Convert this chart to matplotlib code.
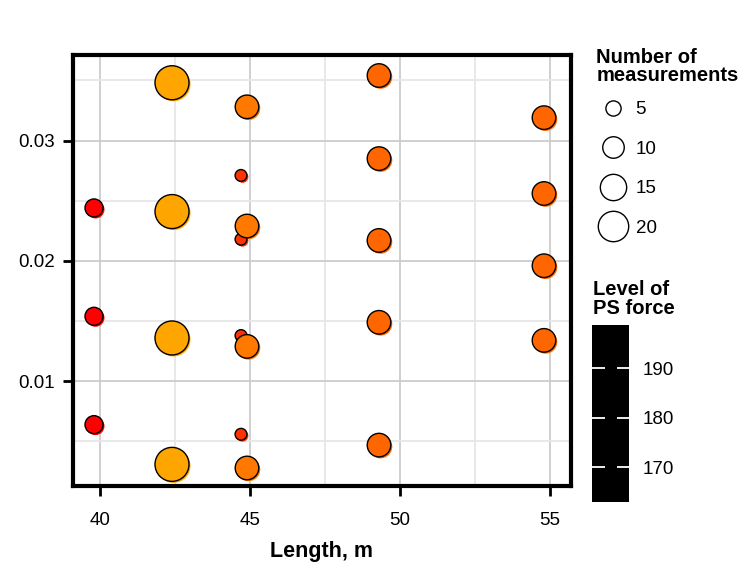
import matplotlib
matplotlib.use("Agg")
import matplotlib.pyplot as plt
import numpy as np
from matplotlib.colors import LinearSegmentedColormap, ListedColormap, Normalize
from matplotlib.transforms import offset_copy
from matplotlib.lines import Line2D
from matplotlib.cm import ScalarMappable

plt.rcParams['font.family'] = ['Liberation Sans', 'DejaVu Sans']

# data
length = [39.8, 39.8, 39.8,
          42.4, 42.4, 42.4, 42.4,
          44.7, 44.7, 44.7, 44.7,
          44.9, 44.9, 44.9, 44.9,
          49.3, 49.3, 49.3, 49.3, 49.3,
          54.8, 54.8, 54.8, 54.8]
ratio = [0.0244, 0.0154, 0.0064,
         0.0348, 0.0241, 0.0136, 0.0031,
         0.0271, 0.0218, 0.0138, 0.0056,
         0.0328, 0.0229, 0.0129, 0.0028,
         0.0354, 0.0285, 0.0217, 0.0149, 0.0047,
         0.0319, 0.0256, 0.0196, 0.0134]
n_meas = [7, 7, 7,
          25, 25, 25, 25,
          3, 3, 3, 3,
          12, 12, 12, 12,
          12, 12, 12, 12, 12,
          12, 12, 12, 12]
ps_force = [163, 163, 163,
            199, 199, 199, 199,
            174, 174, 174, 174,
            189, 189, 189, 189,
            185, 185, 185, 185, 185,
            185, 185, 185, 185]

legend_counts = [5, 10, 15, 20]
cbar_ticks = [170, 180, 190]
force_range = (162.9, 198.8)


def marker_area(n):
    # diameter in px ~ 6.8*sqrt(n), area in pt^2
    d_pt = 6.8 * np.sqrt(np.asarray(n, dtype=float)) * 72 / 100
    return d_pt ** 2


fig = plt.figure(figsize=(7.51, 5.63), dpi=100)
ax = fig.add_axes([0.0972, 0.1367, 0.6631, 0.7655])

cmap = LinearSegmentedColormap.from_list("redorange", ["#FF0000", "#FFA500"])
norm = Normalize(*force_range)

# shadow copy, slightly offset
shadow = offset_copy(ax.transData, fig=fig, x=1.5, y=-1.5, units='dots')
ax.scatter(length, ratio, s=marker_area(n_meas), c=ps_force, cmap=cmap, norm=norm,
           linewidths=0, transform=shadow, zorder=3)
ax.scatter(length, ratio, s=marker_area(n_meas), c=ps_force, cmap=cmap, norm=norm,
           edgecolors='black', linewidths=1.0, zorder=4)

ax.set_xlim(39.1, 55.7)
ax.set_ylim(0.0013, 0.0371)
ax.set_xticks([40, 45, 50, 55])
ax.set_xticks([42.5, 47.5, 52.5], minor=True)
ax.set_yticks([0.01, 0.02, 0.03])
ax.set_yticks([0.005, 0.015, 0.025, 0.035], minor=True)
ax.set_yticklabels(["0.01", "0.02", "0.03"])
ax.grid(True, which='major', color='#cccccc', linewidth=1.3, zorder=0)
ax.grid(True, which='minor', color='#e6e6e6', linewidth=1.3, zorder=0)
ax.set_axisbelow(True)
ax.tick_params(which='major', direction='out', length=7, width=2, colors='black',
               labelsize=13.5)
ax.tick_params(axis='x', pad=12)
ax.tick_params(axis='y', pad=6)
ax.tick_params(which='minor', length=0)
for sp in ax.spines.values():
    sp.set_linewidth(3)
ax.set_xlabel("Length, m", fontsize=15.5, fontweight='bold', labelpad=8)

# size legend
handles = [Line2D([], [], linestyle='none', marker='o', markerfacecolor='white',
                  markeredgecolor='black', markeredgewidth=1.0,
                  markersize=np.sqrt(marker_area(c))) for c in legend_counts]
leg = fig.legend(handles, [str(c) for c in legend_counts],
                 title="Number of\nmeasurements", loc='upper left',
                 bbox_to_anchor=(0.784, 0.9285), frameon=False, fontsize=13.5,
                 title_fontproperties={'weight': 'bold', 'size': 14.5},
                 labelspacing=1.2, handletextpad=0.3, borderaxespad=0,
                 handlelength=1.8)
leg._legend_box.align = 'left'
leg._legend_box.sep = 11.5
leg.get_title().set_linespacing(0.95)

# colourbar (rendered solid black as in the reference)
cax = fig.add_axes([0.788, 0.1083, 0.0493, 0.3144])
cb = fig.colorbar(ScalarMappable(norm=norm, cmap=ListedColormap(['black'])), cax=cax,
                  ticks=cbar_ticks)
cb.outline.set_visible(False)
cax.tick_params(direction='in', length=9, width=1.3, color='white', labelsize=13.5,
                left=True, right=True, pad=10)
fig.text(0.789, 0.436, "Level of\nPS force", fontsize=14.5, fontweight='bold',
         ha='left', va='bottom', linespacing=0.95)

fig.savefig("out.png", dpi=100)
